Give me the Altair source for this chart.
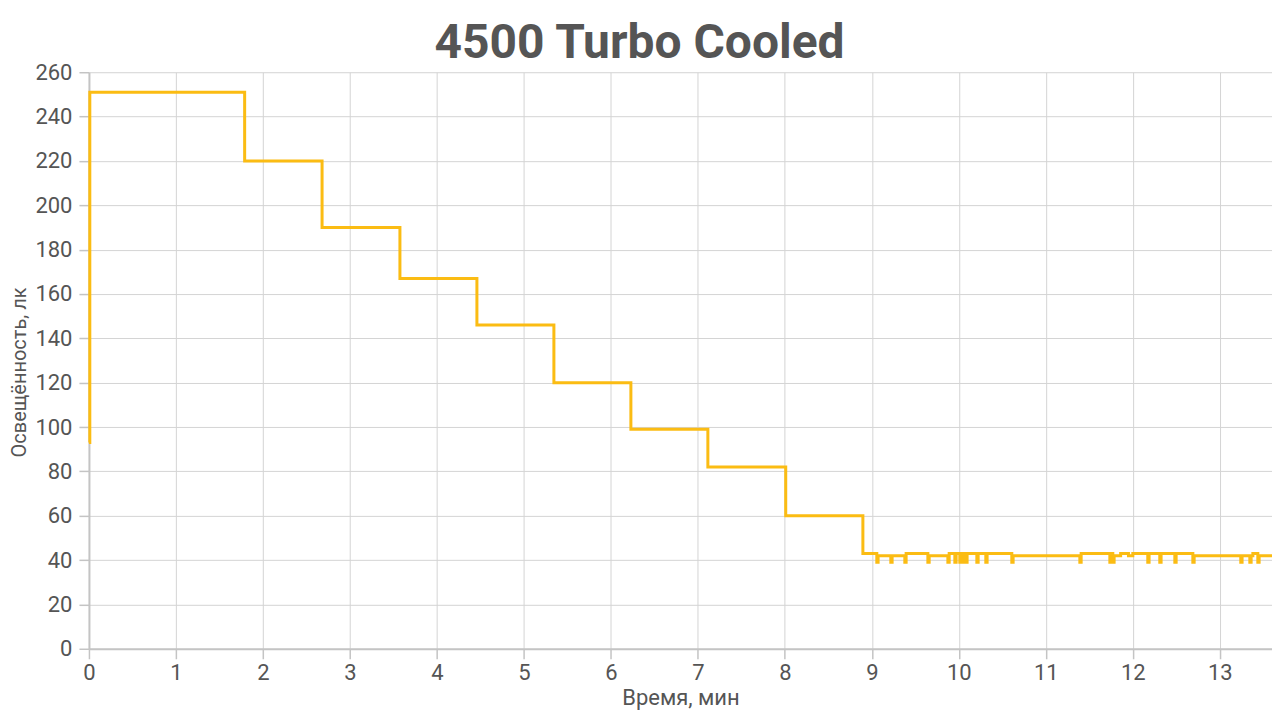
import altair as alt
import pandas as pd

# Step series: time (min) and illuminance (lx), step-after
t_main = [0.0, 0.01, 1.79, 2.68, 3.575, 4.46, 5.345, 6.23, 7.115, 8.01, 8.897]
v_main = [93, 251, 220, 190, 167, 146, 120, 99, 82, 60, 43]

# Tail after stabilisation (step-after points, with short dips)
t_tail = [9.057, 9.072, 9.218, 9.233, 9.379, 9.394, 9.644, 9.659, 9.874, 9.889,
          9.954, 9.969, 10.011, 10.026, 10.046, 10.061, 10.080, 10.095,
          10.207, 10.222, 10.310, 10.325, 10.609, 10.624,
          11.391, 11.406, 11.736, 11.751, 11.770, 11.785, 11.86, 11.95, 12.0,
          12.172, 12.187, 12.310, 12.325, 12.483, 12.498, 12.690, 12.705,
          13.241, 13.256, 13.345, 13.36, 13.38, 13.437, 13.452, 13.6]
v_tail = [39, 42, 39, 42, 39, 43, 39, 42, 39, 43,
          39, 43, 39, 43, 39, 43, 39, 43,
          39, 43, 39, 43, 39, 42,
          39, 43, 39, 43, 39, 42, 43, 42, 43,
          39, 43, 39, 43, 39, 43, 39, 42,
          39, 42, 39, 42, 43, 39, 42, 42]

df = pd.DataFrame({"t": t_main + t_tail, "v": v_main + v_tail})

FONT = "Roboto"
GREY = "#555555"

chart = alt.Chart(df).mark_line(
    interpolate="step-after", color="#FBBC13", strokeWidth=3
).encode(
    x=alt.X("t:Q", scale=alt.Scale(domain=[0, 13.6], nice=False),
            axis=alt.Axis(title="Время, мин", values=list(range(0, 14)),
                          format="d", labelFlush=False)),
    y=alt.Y("v:Q", scale=alt.Scale(domain=[0, 260], nice=False),
            axis=alt.Axis(title="Освещённость, лк", values=list(range(0, 261, 20)),
                          titleY=300, labelFlush=False)),
).properties(
    width=1184, height=577,
    title=alt.Title("4500 Turbo Cooled", fontSize=48, font=FONT, fontWeight="bold",
                    color=GREY, anchor="middle", dx=-41, offset=-7),
    autosize=alt.AutoSizeParams(type="none"),
    padding={"left": 81, "top": 64, "right": 0, "bottom": 63},
).configure_view(stroke=None).configure_axis(
    labelFont=FONT, titleFont=FONT, labelFontSize=22, titleFontSize=20,
    labelColor=GREY, titleColor=GREY, titleFontWeight="normal",
    gridColor="#d4d4d4", gridWidth=1, domainColor="#c4c4c4", domainWidth=2,
    tickColor="#c4c4c4", tickWidth=1.5, tickSize=10, labelPadding=7,
).configure_axisX(titlePadding=4, labelPadding=4, titleFontSize=22).configure_axisY(titlePadding=5)

chart.save("out.html", embed_options={"renderer": "svg", "actions": False})
